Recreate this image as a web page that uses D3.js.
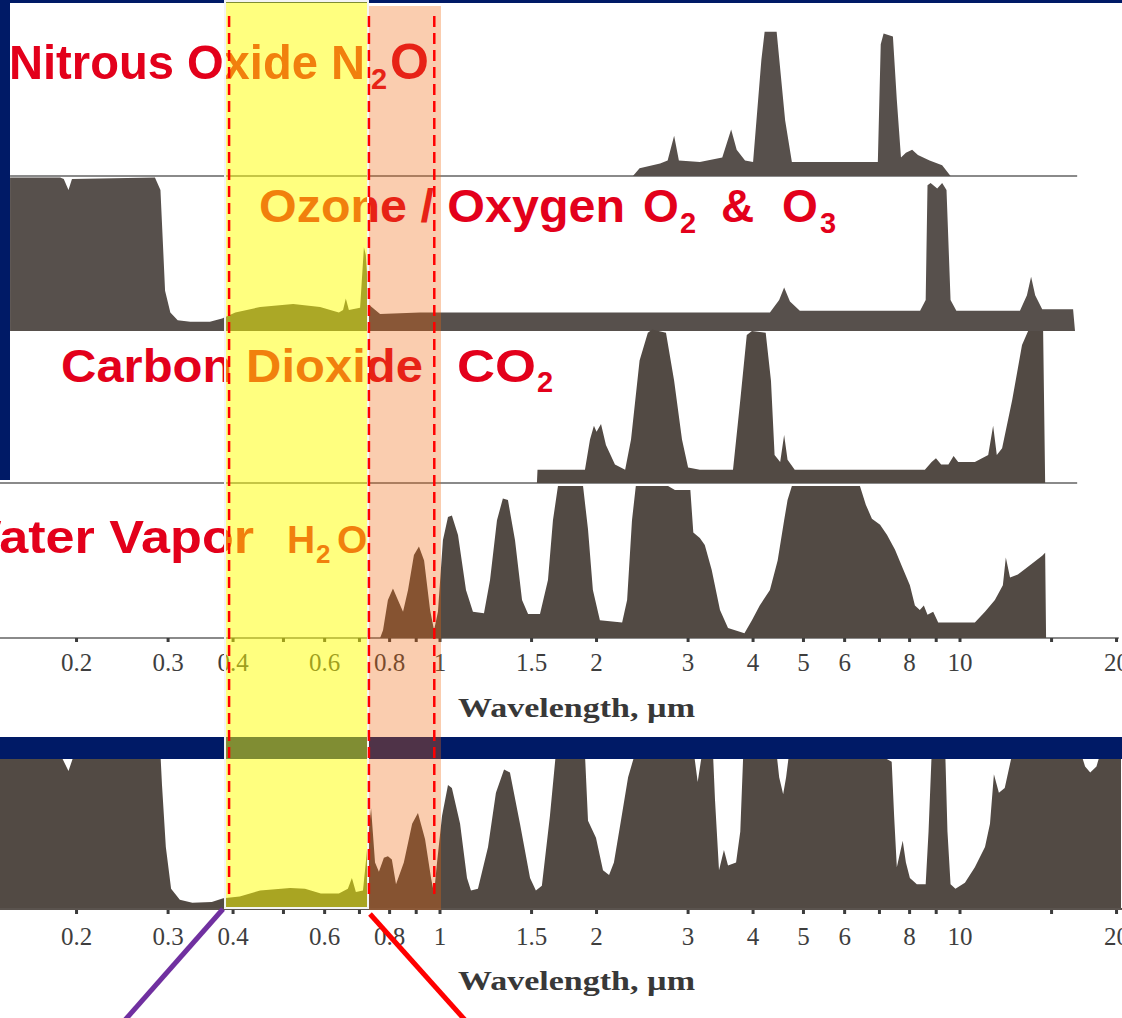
<!DOCTYPE html>
<html>
<head>
<meta charset="utf-8">
<script src="https://cdn.jsdelivr.net/npm/d3@7"></script>
<style>
  body { margin: 0; background: #fff; }
  svg { display: block; }
</style>
</head>
<body>
<svg id="chart" width="1122" height="1018"></svg>
<script>
// ─── Data: [wavelength µm, relative absorption 0..1] ─────────────────────────
const n2oSpectrum = [
  [2.35, 0], [2.42, 0.05], [2.65, 0.08], [2.74, 0.10], [2.82, 0.26], [2.88, 0.10],
  [3.16, 0.09], [3.49, 0.12], [3.63, 0.30], [3.72, 0.17], [3.86, 0.10], [4.00, 0.09],
  [4.15, 0.75], [4.21, 0.93], [4.44, 0.93], [4.61, 0.36], [4.75, 0.09], [6.95, 0.09],
  [7.04, 0.85], [7.13, 0.92], [7.43, 0.90], [7.56, 0.49], [7.70, 0.12], [7.87, 0.15],
  [8.09, 0.17], [8.30, 0.135], [8.74, 0.10], [9.24, 0.07], [9.59, 0]
];

const o3Spectrum = [
  [0.149, 0], [0.149, 0.99], [0.186, 0.99], [0.189, 0.98], [0.193, 0.91], [0.196, 0.98],
  [0.283, 0.99], [0.290, 0.91], [0.296, 0.26], [0.303, 0.12], [0.313, 0.07], [0.331, 0.06],
  [0.361, 0.06], [0.381, 0.08], [0.404, 0.12], [0.451, 0.155], [0.522, 0.175], [0.588, 0.155],
  [0.639, 0.12], [0.651, 0.135], [0.659, 0.21], [0.668, 0.135], [0.702, 0.15], [0.714, 0.54],
  [0.720, 0.49], [0.730, 0.17], [0.767, 0.11], [0.915, 0.12], [4.31, 0.12], [4.49, 0.2],
  [4.59, 0.28], [4.71, 0.19], [4.92, 0.13], [8.38, 0.13], [8.59, 0.2], [8.66, 0.94],
  [8.78, 0.955], [9.04, 0.92], [9.24, 0.955], [9.42, 0.91], [9.59, 0.2], [9.84, 0.13],
  [13.04, 0.13], [13.45, 0.23], [13.70, 0.35], [13.95, 0.23], [14.39, 0.14], [16.5, 0.14],
  [16.64, 0]
];

const co2Spectrum = [
  [1.536, 0], [1.54, 0.085], [1.90, 0.085], [1.943, 0.28], [1.977, 0.37], [2.0, 0.33],
  [2.04, 0.38], [2.085, 0.245], [2.17, 0.12], [2.27, 0.085], [2.33, 0.28], [2.42, 0.79],
  [2.51, 0.97], [2.56, 0.99], [2.72, 0.97], [2.82, 0.66], [2.92, 0.28], [3.0, 0.1],
  [3.16, 0.085], [3.66, 0.085], [3.78, 0.535], [3.89, 0.955], [3.98, 0.98], [4.23, 0.97],
  [4.33, 0.66], [4.40, 0.18], [4.51, 0.135], [4.59, 0.31], [4.66, 0.15], [4.81, 0.085],
  [8.56, 0.085], [8.82, 0.135], [8.99, 0.16], [9.20, 0.12], [9.50, 0.12], [9.72, 0.175],
  [9.92, 0.135], [10.68, 0.135], [11.33, 0.18], [11.58, 0.37], [11.77, 0.18], [12.05, 0.225],
  [12.6, 0.535], [13.16, 0.89], [13.52, 0.98], [14.45, 0.98], [14.58, 0]
];

const h2oSpectrum = [
  [0.767, 0], [0.777, 0.05], [0.794, 0.245], [0.812, 0.32], [0.830, 0.245], [0.849, 0.17],
  [0.868, 0.31], [0.891, 0.535], [0.911, 0.59], [0.932, 0.50], [0.957, 0.18], [0.974, 0.05],
  [0.991, 0.17], [1.013, 0.63], [1.036, 0.78], [1.054, 0.79], [1.083, 0.665], [1.122, 0.31],
  [1.157, 0.17], [1.215, 0.16], [1.248, 0.375], [1.287, 0.76], [1.321, 0.90], [1.351, 0.89],
  [1.394, 0.63], [1.438, 0.245], [1.477, 0.155], [1.557, 0.155], [1.613, 0.375], [1.649, 0.76],
  [1.686, 0.98], [1.884, 0.98], [1.926, 0.70], [1.968, 0.31], [2.03, 0.115], [2.24, 0.10],
  [2.29, 0.245], [2.34, 0.76], [2.38, 0.98], [2.745, 0.98], [2.83, 0.955], [3.03, 0.955],
  [3.07, 0.68], [3.16, 0.645], [3.23, 0.6], [3.33, 0.44], [3.455, 0.18], [3.58, 0.065],
  [3.85, 0.03], [3.98, 0.115], [4.12, 0.21], [4.31, 0.31], [4.46, 0.50], [4.59, 0.76],
  [4.66, 0.89], [4.75, 0.98], [6.42, 0.98], [6.59, 0.86], [6.77, 0.77], [7.02, 0.73],
  [7.24, 0.665], [7.50, 0.57], [7.76, 0.45], [8.01, 0.34], [8.19, 0.21], [8.37, 0.18],
  [8.52, 0.21], [8.66, 0.15], [8.88, 0.17], [9.08, 0.10], [10.68, 0.10], [11.17, 0.17],
  [11.67, 0.245], [12.09, 0.34], [12.25, 0.52], [12.48, 0.39], [12.92, 0.41], [13.63, 0.47],
  [14.39, 0.53], [14.58, 0.55], [14.64, 0]
];

const totalSpectrum = [
  [0.1425, 1], [0.186, 1], [0.193, 0.89], [0.198, 1], [0.290, 1], [0.292, 0.8],
  [0.297, 0.4], [0.304, 0.13], [0.316, 0.06], [0.334, 0.04], [0.364, 0.045], [0.383, 0.07],
  [0.412, 0.08], [0.451, 0.12], [0.515, 0.135], [0.55, 0.13], [0.590, 0.1], [0.639, 0.1],
  [0.665, 0.13], [0.677, 0.2], [0.689, 0.11], [0.711, 0.12], [0.72, 0.3], [0.727, 0.45],
  [0.737, 0.65], [0.75, 0.3], [0.763, 0.24], [0.78, 0.33], [0.794, 0.34], [0.808, 0.32],
  [0.823, 0.16], [0.852, 0.3], [0.884, 0.55], [0.907, 0.62], [0.936, 0.45], [0.961, 0.2],
  [0.974, 0.1], [0.987, 0.3], [1.009, 0.6], [1.036, 0.8], [1.054, 0.78], [1.093, 0.55],
  [1.127, 0.2], [1.147, 0.12], [1.183, 0.13], [1.237, 0.4], [1.281, 0.75], [1.328, 0.9],
  [1.363, 0.88], [1.425, 0.55], [1.490, 0.2], [1.529, 0.12], [1.57, 0.15], [1.627, 0.6],
  [1.67, 1], [1.90, 1], [1.926, 0.57], [1.995, 0.46], [2.058, 0.25], [2.114, 0.22],
  [2.16, 0.3], [2.228, 0.57], [2.30, 0.85], [2.37, 1], [3.08, 1], [3.13, 0.82],
  [3.19, 1], [3.35, 1], [3.38, 0.7], [3.44, 0.25], [3.516, 0.38], [3.58, 0.28],
  [3.71, 0.3], [3.78, 0.5], [3.83, 1], [4.44, 1], [4.49, 0.85], [4.57, 0.74],
  [4.63, 0.85], [4.69, 1], [6.95, 1], [7.39, 0.95], [7.47, 0.6], [7.56, 0.27],
  [7.76, 0.44], [7.87, 0.3], [8.01, 0.2], [8.26, 0.16], [8.59, 0.16], [8.70, 0.5],
  [8.82, 1], [9.37, 1], [9.46, 0.5], [9.59, 0.16], [9.80, 0.13], [10.22, 0.17],
  [10.68, 0.27], [11.17, 0.4], [11.42, 0.55], [11.62, 0.87], [11.88, 0.75], [12.19, 0.78],
  [12.6, 1], [17.1, 1], [17.4, 0.92], [17.8, 0.88], [18.3, 0.92], [18.6, 1], [20.4, 1]
];

const tickValues = [0.2, 0.3, 0.4, 0.5, 0.6, 0.7, 0.8, 0.9, 1, 1.5, 2, 3, 4, 5, 6, 7, 8, 9, 10, 15, 20];
const tickLabels = [0.2, 0.3, 0.4, 0.6, 0.8, 1, 1.5, 2, 3, 4, 5, 6, 8, 10, 20];

const visibleBand = [0.386, 0.727];
const nearIrBand = [0.727, 1.0];
const bandMarkers = [0.393, 0.73, 0.975];

// ─── Style ──────────────────────────────────────────────────────────────────
const C = {
  navy: '#001a66',
  ink: '#524a44',
  inkTop: '#57504c',
  red: '#e3001b',
  axis: '#8a8a8a',
  tick: '#3e3e3e',
  purple: '#7030a0',
  sans: '"Liberation Sans", Arial, sans-serif',
  serif: '"Liberation Serif", "Times New Roman", serif'
};

const svg = d3.select('#chart');
const W = 1122, H = 1018;
const PANEL_H = 155;

// log wavelength axis: 1 µm at 440 px, 520 px per decade
const x = d3.scaleLog().domain([1, 10]).range([440, 960]);

svg.append('rect').attr('width', W).attr('height', H).attr('fill', '#fff');

// navy frame pieces from the slide
svg.append('rect').attr('x', 0).attr('y', 0).attr('width', W).attr('height', 3).attr('fill', C.navy);
svg.append('rect').attr('x', 0).attr('y', 0).attr('width', 10).attr('height', 480).attr('fill', C.navy);

// ─── Stacked gas panels ─────────────────────────────────────────────────────
const panels = [
  { data: n2oSpectrum, base: 176, line: [0.149, 16.8], fill: C.inkTop },
  { data: o3Spectrum,  base: 331, line: null,          fill: C.inkTop },
  { data: co2Spectrum, base: 483, line: [0.1425, 16.8], fill: C.ink },
  { data: h2oSpectrum, base: 638, line: [0.1425, 20.2], fill: C.ink }
];

const spectra = svg.append('g');
panels.forEach(p => {
  const y = d3.scaleLinear().domain([0, 1]).range([p.base, p.base - PANEL_H]);
  if (p.line) {
    spectra.append('line')
      .attr('x1', x(p.line[0])).attr('x2', x(p.line[1]))
      .attr('y1', p.base).attr('y2', p.base)
      .attr('stroke', C.axis).attr('stroke-width', 2);
  }
  const area = d3.area()
    .x(d => x(d[0]))
    .y0(p.base)
    .y1(d => y(d[1]));
  spectra.append('path').datum(p.data).attr('d', area).attr('fill', p.fill);
});

// axis ticks + labels
function drawAxis(base, labelY, titleY) {
  const g = svg.append('g');
  g.selectAll('line.tk').data(tickValues).enter().append('line')
    .attr('x1', d => x(d)).attr('x2', d => x(d))
    .attr('y1', base).attr('y2', base + 4)
    .attr('stroke', '#3c3c3c').attr('stroke-width', 3);
  g.selectAll('text.tl').data(tickLabels).enter().append('text')
    .attr('x', d => x(d)).attr('y', labelY)
    .attr('text-anchor', 'middle')
    .attr('font-family', C.serif).attr('font-size', 25)
    .attr('fill', C.tick)
    .text(d => String(d));
  g.append('text')
    .attr('x', 458).attr('y', titleY)
    .attr('textLength', 237).attr('lengthAdjust', 'spacingAndGlyphs')
    .attr('font-family', C.serif).attr('font-size', 28).attr('font-weight', 'bold')
    .attr('fill', '#383838')
    .text('Wavelength, \u00b5m');
}
drawAxis(638, 671, 717);

// ─── Combined spectrum (bottom) ─────────────────────────────────────────────
const bottomBase = 909;
const yb = d3.scaleLinear().domain([0, 1]).range([bottomBase, bottomBase - PANEL_H]);
svg.append('path').datum(totalSpectrum)
  .attr('d', d3.area().x(d => x(d[0])).y0(bottomBase).y1(d => yb(d[1])))
  .attr('fill', C.ink);
svg.append('line')
  .attr('x1', 0).attr('x2', W).attr('y1', bottomBase).attr('y2', bottomBase)
  .attr('stroke', '#5a534e').attr('stroke-width', 2);
drawAxis(bottomBase + 1, 945, 990);

// navy divider between the two figures
svg.append('rect').attr('x', 0).attr('y', 737).attr('width', W).attr('height', 22).attr('fill', C.navy);

// ─── Gas labels ─────────────────────────────────────────────────────────────
const labels = svg.append('g')
  .attr('font-family', C.sans).attr('font-weight', 'bold').attr('fill', C.red);

// w = null keeps the natural glyph width (short pieces)
function piece(txt, px, py, size, w) {
  const t = labels.append('text')
    .attr('x', px).attr('y', py)
    .attr('font-size', size)
    .text(txt);
  if (w) t.attr('textLength', w).attr('lengthAdjust', 'spacingAndGlyphs');
}
// Nitrous Oxide N2O
piece('Nitrous Oxide N', 9, 79, 49, 356);
piece('2', 371, 89, 29, null);
piece('O', 390, 79, 50, null);
// Ozone / Oxygen O2 & O3
piece('Ozone / Oxygen', 259, 222, 46, 366);
piece('O', 643, 222, 46, null);
piece('2', 680, 233, 29, null);
piece('&', 721, 222, 46, null);
piece('O', 782, 222, 46, null);
piece('3', 820, 233, 29, null);
// Carbon Dioxide CO2
piece('Carbon Dioxide', 61, 382, 47, 362);
piece('CO', 457, 382, 47, 79);
piece('2', 537, 392, 29, null);
// Water Vapor H2O
piece('Water Vapor', -48, 553, 46, 302);
piece('H', 287, 553, 39, null);
piece('2', 316, 563, 26, null);
piece('O', 337, 553, 39, null);

// ─── Highlighted bands ──────────────────────────────────────────────────────
svg.append('rect')
  .attr('x', x(visibleBand[0])).attr('y', 1)
  .attr('width', x(visibleBand[1]) - x(visibleBand[0])).attr('height', 907)
  .attr('fill', 'rgba(255,255,0,0.5)')
  .attr('stroke', '#f4f4f4').attr('stroke-width', 2);
svg.append('rect')
  .attr('x', x(nearIrBand[0]) + 1).attr('y', 6)
  .attr('width', x(nearIrBand[1]) - x(nearIrBand[0])).attr('height', 904)
  .attr('fill', 'rgba(240,103,12,0.33)');

svg.selectAll('line.marker').data(bandMarkers).enter().append('line')
  .attr('x1', d => x(d)).attr('x2', d => x(d))
  .attr('y1', 16).attr('y2', 896)
  .attr('stroke', '#ff0000').attr('stroke-width', 2.5)
  .attr('stroke-dasharray', '11,6');

// connector lines toward the (cropped) spectrum below
const vx0 = x(visibleBand[0]);
const vx1 = x(visibleBand[1]);
svg.append('line')
  .attr('x1', vx0 - 2).attr('y1', bottomBase)
  .attr('x2', vx0 - 100).attr('y2', H + 2)
  .attr('stroke', C.purple).attr('stroke-width', 5);
svg.append('line')
  .attr('x1', vx1 + 2).attr('y1', bottomBase + 5)
  .attr('x2', vx1 + 97).attr('y2', H + 2)
  .attr('stroke', '#ff0000').attr('stroke-width', 5);
</script>
</body>
</html>
